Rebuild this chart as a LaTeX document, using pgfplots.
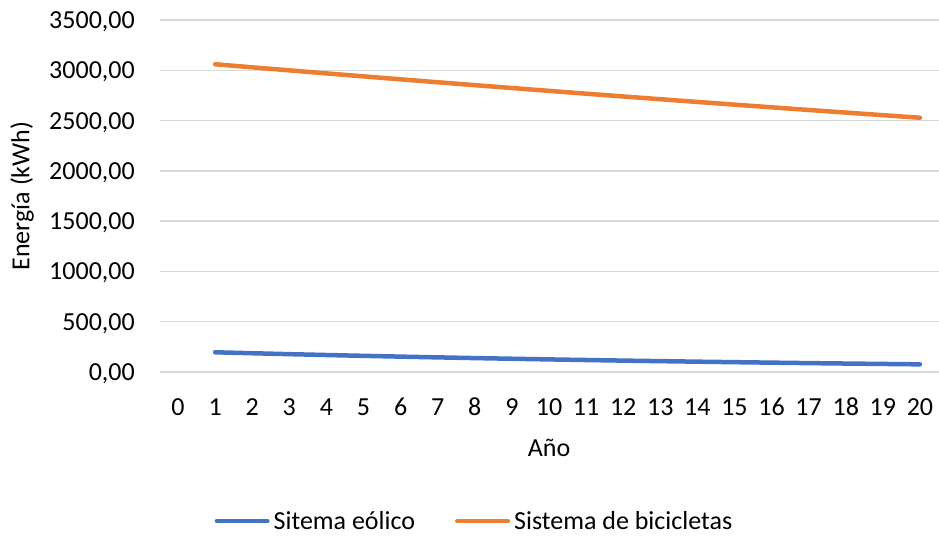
\documentclass[border=0pt]{standalone}
\usepackage{fontspec}
\setmainfont{Carlito}
\usepackage{pgfplots}
\usepackage{pgfplotstable}
\pgfplotsset{compat=1.18}

\definecolor{serieA}{HTML}{4472C4}
\definecolor{serieB}{HTML}{ED7D31}
\definecolor{rejilla}{HTML}{D9D9D9}

% Energía anual por sistema (kWh)
\pgfplotstableread{
anio eolico bicicletas
1  196.0 3060.0
2  186.5 3029.4
3  177.4 2999.1
4  168.8 2969.1
5  160.6 2939.4
6  152.8 2910.0
7  145.4 2880.9
8  138.3 2852.1
9  131.6 2823.6
10 125.2 2795.4
11 119.1 2767.4
12 113.3 2739.7
13 107.8 2712.3
14 102.6 2685.2
15  97.6 2658.4
16  92.9 2631.8
17  88.3 2605.5
18  84.1 2579.4
19  80.0 2553.6
20  76.1 2528.1
}\datos

\begin{document}
\begin{tikzpicture}[x=1pt,y=1pt]
\useasboundingbox (0,0) rectangle (939,537);
\begin{axis}[
  at={(159.5pt,165pt)}, anchor=south west,
  scale only axis, width=779pt, height=352pt,
  xmin=-0.5, xmax=20.5, ymin=0, ymax=3500,
  xtick={0,...,20}, ytick={0,500,...,3500},
  axis line style={draw=none},
  major tick length=0pt,
  ymajorgrids, grid style={rejilla, line width=1.3pt},
  /pgf/number format/assume math mode=true,
  yticklabel style={/pgf/number format/fixed, /pgf/number format/fixed zerofill,
    /pgf/number format/precision=2, /pgf/number format/use comma,
    /pgf/number format/1000 sep={}},
  yticklabel style={anchor=east, inner sep=0pt, xshift=-24.5pt, text depth=0pt},
  xticklabel style={anchor=base, inner sep=0pt, yshift=-44pt},
  ticklabel style={font=\fontsize{26}{31}\selectfont},
  label style={font=\fontsize{26}{31}\selectfont},
  xlabel={Año},
  xlabel style={at={(axis description cs:0.5,0)}, anchor=base, inner sep=0pt, yshift=-85pt},
  ylabel={Energía (kWh)},
  ylabel style={at={(axis description cs:-0.1765,0.5)}, anchor=center, inner sep=0pt},
  legend columns=2,
  legend style={at={(axis description cs:0.403,-0.423)}, anchor=center,
    draw=none, fill=none, inner sep=0pt,
    font=\fontsize{26}{31}\selectfont,
    nodes={inner sep=0pt},
    /tikz/every odd column/.append style={column sep=4pt},
    /tikz/every even column/.append style={column sep=40pt}},
  legend image code/.code={\draw[#1, line width=4.5pt, line cap=round] (2.25pt,0pt) -- (52.75pt,0pt);},
  clip=false,
]
\addplot[serieA, line width=4.5pt, line cap=round, line join=round] table[x=anio, y=eolico] {\datos};
\addlegendentry{Sitema eólico}
\addplot[serieB, line width=4.5pt, line cap=round, line join=round] table[x=anio, y=bicicletas] {\datos};
\addlegendentry{Sistema de bicicletas}
\end{axis}
\end{tikzpicture}
\end{document}
